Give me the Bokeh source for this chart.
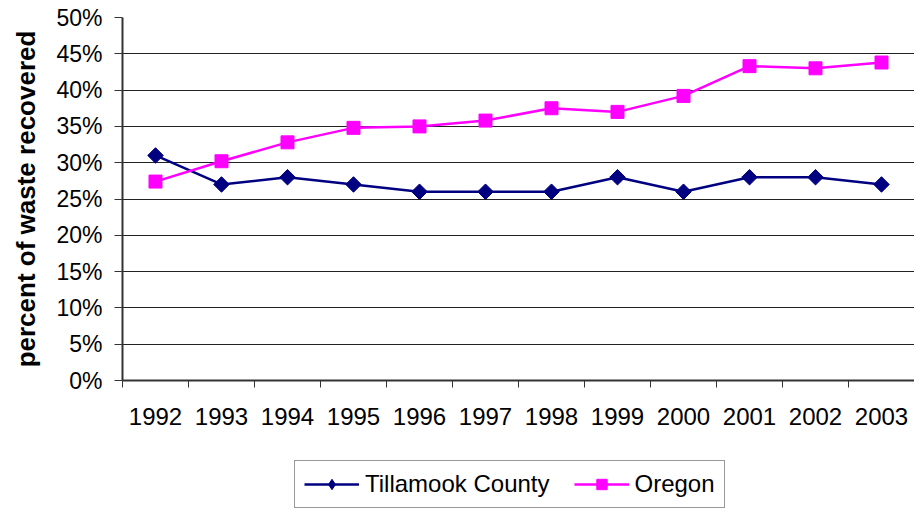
import math
from bokeh.plotting import figure
from bokeh.layouts import column
from bokeh.models import FixedTicker, PrintfTickFormatter, Legend, LegendItem, Range1d
from bokeh.embed import file_html
from bokeh.resources import INLINE

years = [1992, 1993, 1994, 1995, 1996, 1997, 1998, 1999, 2000, 2001, 2002, 2003]
tillamook = [31, 27, 28, 27, 26, 26, 26, 28, 26, 28, 28, 27]
oregon = [27.4, 30.2, 32.8, 34.8, 35.0, 35.8, 37.5, 37.0, 39.2, 43.3, 43.0, 43.8]
y_ticks = [0, 5, 10, 15, 20, 25, 30, 35, 40, 45, 50]
y_label = "percent of waste recovered"
series_names = ["Tillamook County", "Oregon"]

FONT = "Liberation Sans"
NAVY = "#000080"
MAG = "#FF00FF"

p = figure(width=914, height=445, output_backend="svg", toolbar_location=None,
           x_range=Range1d(years[0] - 0.5, years[-1] + 0.5), y_range=Range1d(0, 50),
           min_border_left=122, min_border_right=0, min_border_top=17, min_border_bottom=65)
p.outline_line_color = None
p.background_fill_color = "white"
p.border_fill_color = "white"

xt = FixedTicker(ticks=years, minor_ticks=[y - 0.5 for y in years] + [years[-1] + 0.5])
p.xaxis.ticker = xt
p.xaxis.major_tick_out = 0
p.xaxis.major_tick_in = 0
p.xaxis.minor_tick_out = 7
p.xaxis.minor_tick_in = 0
p.xaxis.minor_tick_line_color = "#333333"
p.xaxis.major_label_text_font = FONT
p.xaxis.major_label_text_font_size = "24px"
p.xaxis.major_label_text_color = "black"
p.xaxis.major_label_standoff = 20
p.xaxis.axis_line_color = "#333333"
p.xaxis.axis_line_width = 2

p.yaxis.ticker = FixedTicker(ticks=y_ticks, minor_ticks=[])
p.yaxis.formatter = PrintfTickFormatter(format="%d%%")
p.yaxis.major_tick_out = 8
p.yaxis.major_tick_in = 0
p.yaxis.major_tick_line_color = "#333333"
p.yaxis.major_label_text_font = FONT
p.yaxis.major_label_text_font_size = "23px"
p.yaxis.major_label_text_color = "black"
p.yaxis.major_label_standoff = 12
p.yaxis.axis_line_color = "#333333"
p.yaxis.axis_line_width = 2
p.yaxis.axis_label = y_label
p.yaxis.axis_label_text_font = FONT
p.yaxis.axis_label_text_font_size = "26px"
p.yaxis.axis_label_text_font_style = "bold"
p.yaxis.axis_label_text_color = "black"
p.yaxis.axis_label_standoff = 12

p.xgrid.grid_line_color = None
p.ygrid.ticker = FixedTicker(ticks=y_ticks)
p.ygrid.grid_line_color = "#222222"
p.ygrid.grid_line_width = 1

p.line(years, tillamook, line_color=NAVY, line_width=2.5)
p.scatter(years, tillamook, marker="square", angle=math.pi / 4, size=11,
          fill_color=NAVY, line_color=NAVY)
p.line(years, oregon, line_color=MAG, line_width=2.5)
p.scatter(years, oregon, marker="square", size=13, fill_color=MAG, line_color=MAG)

# legend strip below the chart (series glyphs lie outside its visible range)
lf = figure(width=914, height=65, output_backend="svg", toolbar_location=None,
            x_range=Range1d(0, 1), y_range=Range1d(0, 1),
            min_border_left=0, min_border_right=0, min_border_top=0, min_border_bottom=0)
lf.axis.visible = False
lf.grid.visible = False
lf.outline_line_color = None
ll1 = lf.line(years, tillamook, line_color=NAVY, line_width=2.5)
lm1 = lf.scatter(years, tillamook, marker="diamond", size=16, fill_color=NAVY, line_color=NAVY)
ll2 = lf.line(years, oregon, line_color=MAG, line_width=2.5)
lm2 = lf.scatter(years, oregon, marker="square", size=11, fill_color=MAG, line_color=MAG)

legend = Legend(items=[LegendItem(label=series_names[0], renderers=[ll1, lm1]),
                       LegendItem(label=series_names[1], renderers=[ll2, lm2])],
                location=(172, 2), orientation="horizontal")
legend.label_text_font = FONT
legend.label_text_font_size = "24px"
legend.label_text_color = "black"
legend.glyph_width = 55
legend.glyph_height = 26
legend.label_standoff = 6
legend.spacing = 24
legend.padding = 9
legend.margin = 0
legend.border_line_color = "#333333"
legend.border_line_width = 1
legend.background_fill_alpha = 1
lf.add_layout(legend, "center")

layout = column(p, lf, spacing=0)
open("out.html", "w").write(file_html(layout, INLINE))
